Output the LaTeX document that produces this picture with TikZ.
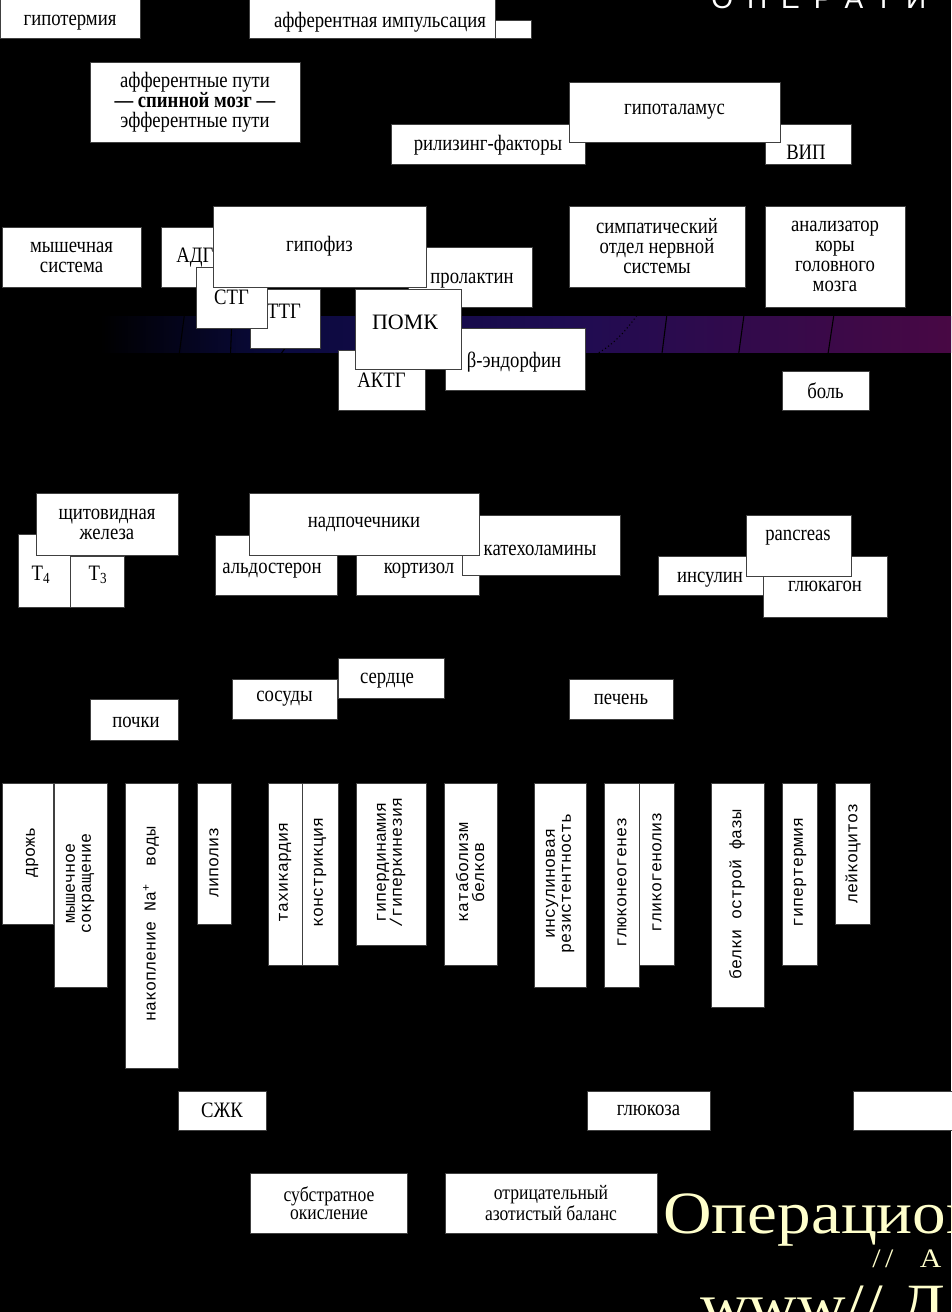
\documentclass[tikz,border=0pt]{standalone}
\usepackage{fontspec}
\setmainfont{Liberation Serif}
\newfontfamily\cond[FakeStretch=0.85]{Liberation Serif}
\newfontfamily\monof{Liberation Mono}
\newfontfamily\spacedsans[LetterSpace=50]{Liberation Sans}
\newfontfamily\titlef[FakeStretch=1.12]{Liberation Serif}
\usetikzlibrary{arrows.meta}
\pgfdeclarelayer{bandl}
\pgfdeclarelayer{connl}
\pgfsetlayers{bandl,connl,main}
\definecolor{navyb}{RGB}{10,10,62}
\definecolor{midb}{RGB}{30,12,82}
\definecolor{purp}{RGB}{72,8,68}
\definecolor{ylw}{RGB}{255,255,204}
\newcommand\boxfont{\cond\fontsize{16.5}{15}\selectfont}
\newcommand\smallboxfont{\cond\fontsize{15.5}{13.5}\selectfont}
\newcommand\rotfont{\monof\fontsize{12.5}{12}\selectfont}
\tikzset{
  box/.style={draw=black!75,fill=white,line width=0.5pt,inner sep=0pt,font=\boxfont,align=center,text=black},
  txt/.style={inner sep=0pt,font=\boxfont,align=center,text=black},
  rtxt/.style={inner sep=0pt,font=\rotfont,align=center,rotate=90,text=black},
  conn/.style={draw=black,line width=0.8pt,-{Stealth[length=5pt]}},
  yl/.style={inner sep=0pt,anchor=base west,text=ylw},
}
% box with centred text: name, x1, y1, x2, y2, text
\newcommand\Bx[6]{\node[box,minimum width={(#4-#2)*0.75pt},minimum height={(#5-#3)*0.75pt}] (#1) at ({(#2+#4)/2},{(#3+#5)/2}) {#6};}
% box with rotated text: name, x1, y1, x2, y2, tx, ty, text
\newcommand\RBx[8]{\Bx{#1}{#2}{#3}{#4}{#5}{}\node[rtxt] (#1t) at (#6,#7) {#8};}
\begin{document}
\begin{tikzpicture}[x=0.75pt,y=-0.75pt]
\useasboundingbox (0,0) rectangle (951,1312);
\begin{pgfonlayer}{bandl}
\fill[black] (0,0) rectangle (951,1312);
\shade[left color=black,right color=navyb] (100,317) rectangle (280,352);
\shade[left color=navyb,right color=midb] (279.5,317) rectangle (560,352);
\shade[left color=midb,right color=purp] (559.5,317) rectangle (951,352);
\end{pgfonlayer}

% ---- titles (cut by the page edge, as in the slide)
\node[anchor=base west,inner sep=0pt,text=white,font=\spacedsans\fontsize{21}{21}\selectfont] (toptitle) at (711,9) {ОПЕРАТИ};
\node[yl,font=\titlef\fontsize{45}{45}\selectfont] (optitle) at (663,1233) {Операцион};
\node[yl,font=\titlef\fontsize{20}{20}\selectfont] (url1) at (872,1267) {/\,/\quad А};
\node[yl,font=\titlef\fontsize{45}{45}\selectfont] (url2) at (700,1325) {www// Д};

% ---- boxes
\Bx{hypo}{0}{-8}{140}{38}{}
\node[txt] (hypot) at (70,23) {гипотермия};
\Bx{aff}{249}{-8}{495}{38}{}
\Bx{affx}{495}{20}{531}{38}{}
\node[txt] (afft) at (380,22) {афферентная импульсация};
\Bx{spinal}{90}{62}{300}{142}{афферентные пути\\\textbf{— спинной мозг —}\\эфферентные пути}
\Bx{rel}{391}{124}{585}{164}{}
\node[txt] (relt) at (488,145) {рилизинг-факторы};
\Bx{vip}{765}{124}{851}{164}{}
\node[txt] (vipt) at (806,152) {ВИП};
\Bx{hypothal}{569}{82}{780}{142}{гипоталамус}

\Bx{muscle}{2}{227}{141}{287}{мышечная\\система}
\Bx{adg}{161}{227}{215}{287}{}
\node[txt] (adgt) at (195,258) {АДГ};
\Bx{ttg}{250}{289}{320}{348}{}
\node[txt] (ttgt) at (284,311) {ТТГ};
\Bx{stg}{196}{267}{267}{328}{СТГ}
\Bx{prol}{408}{247}{532}{307}{}
\node[txt] (prolt) at (472,281) {пролактин};
\Bx{aktg}{338}{350}{425}{410}{АКТГ}
\Bx{beta}{445}{328}{585}{390}{}
\node[txt] (betat) at (514,362) {β-эндорфин};
\Bx{pomk}{355}{289}{461}{369}{}
\node[txt,font=\fontsize{16.5}{15}\selectfont] (pomkt) at (405,322) {ПОМК};
\Bx{hypoph}{213}{206}{426}{287}{гипофиз}
\Bx{sym}{569}{206}{745}{287}{симпатический\\отдел нервной\\системы}
\Bx{anal}{765}{206}{905}{307}{анализатор\\коры\\головного\\мозга}
\Bx{bol}{782}{371}{869}{410}{боль}

\Bx{t4}{18}{534}{70}{607}{}
\node[txt] (t4t) at (41,575) {T\textsubscript{4}};
\Bx{shch}{36}{493}{178}{555}{щитовидная\\железа}
\Bx{t3}{70}{556}{124}{607}{}
\node[txt] (t3t) at (98,575) {T\textsubscript{3}};
\Bx{ald}{215}{535}{337}{595}{}
\node[txt] (aldt) at (272,571) {альдостерон};
\Bx{kort}{356}{535}{479}{595}{}
\node[txt] (kortt) at (419,571) {кортизол};
\Bx{kat}{462}{515}{620}{575}{}
\node[txt] (katt) at (540,550) {катехоламины};
\Bx{nadp}{249}{493}{479}{555}{надпочечники}
\Bx{ins}{658}{556}{764}{595}{}
\node[txt] (inst) at (710,580) {инсулин};
\Bx{gluc}{763}{556}{887}{617}{глюкагон}
\Bx{panc}{746}{515}{851}{576}{}
\node[txt] (panct) at (798,538) {pancreas};

\Bx{sosudy}{232}{679}{337}{719}{сосуды}
\Bx{serdce}{338}{658}{444}{698}{}
\node[txt] (serdcet) at (387,681) {сердце};
\Bx{pechen}{569}{679}{673}{719}{печень}
\Bx{pochki}{90}{699}{178}{740}{}
\node[txt] (pochkit) at (136,722) {почки};

\RBx{drozh}{2}{783}{53}{924}{32}{852}{дрожь}
\RBx{mysh}{54}{783}{107}{987}{80}{883}{мышечное\\сокращение}
\RBx{nak}{125}{783}{178}{1068}{151}{924}{накопление Na\textsuperscript{+}\quad воды}
\RBx{lip}{197}{783}{231}{924}{214}{862}{липолиз}
\RBx{tach}{268}{783}{302}{965}{285}{872}{тахикардия}
\RBx{konst}{302}{783}{338}{965}{320}{872}{констрикция}
\RBx{giperd}{356}{783}{426}{945}{391}{862}{гипердинамия\\/гиперкинезия}
\RBx{katab}{444}{783}{497}{965}{470}{872}{катаболизм\\белков}
\RBx{insres}{534}{783}{586}{987}{560}{883}{инсулиновая\\резистентность}
\RBx{glneo}{604}{783}{639}{987}{622}{882}{глюконеогенез}
\RBx{glikog}{639}{783}{674}{965}{657}{872}{гликогенолиз}
\RBx{belki}{711}{783}{764}{1007}{737}{894}{белки острой фазы}
\RBx{giperterm}{782}{783}{817}{965}{800}{872}{гипертермия}
\RBx{leik}{835}{783}{870}{924}{853}{853}{лейкоцитоз}

\Bx{szhk}{178}{1091}{266}{1130}{СЖК}
\Bx{gluk}{587}{1091}{710}{1130}{глюкоза}
\Bx{blank}{853}{1091}{962}{1130}{}
\node[box,font=\smallboxfont,minimum width={157*0.75pt},minimum height={60*0.75pt}] (subst) at (329,1203) {субстратное\\окисление};
\node[box,font=\smallboxfont,minimum width={212*0.75pt},minimum height={60*0.75pt}] (otric) at (551,1203) {отрицательный\\азотистый баланс};

% ---- connectors: black on black, under the boxes, seen only on the band
\begin{pgfonlayer}{connl}
\draw[conn] (hypo.east) -- (aff.west);
\draw[conn] (aff.south) -- (spinal.north);
\draw[conn] (spinal.east) -- (rel.west);
\draw[conn] (rel.south) -- (hypoph.north);
\draw[conn] (hypothal.south) -- (sym.north);
\draw[conn] (muscle.south) -- (mysh.north);
\draw[conn] (adg.south) -- (pochki.north);
\draw[conn] (stg.south) -- (lip.north);
\draw[conn] (ttg.south) -- (shch.north east);
\draw[conn] (aktg.south) -- (nadp.north);
\draw[conn,dotted] (beta.east) .. controls (625,345) and (645,300) .. (sym.south);
\draw[conn] ([xshift=10pt]sym.south) -- (pechen.north);
\draw[conn] (vip.south west) -- (ins.north);
\draw[conn] (anal.south) -- (bol.north);
\draw[conn] (pochki.south) -- (nak.north);
\draw[conn] (serdce.south) -- (tach.north);
\draw[conn] (sosudy.south) -- (konst.north);
\draw[conn] (pechen.south) -- (glneo.north);
\draw[conn] (pechen.south) -- (glikog.north);
\draw[conn] (pechen.south east) -- (belki.north);
\draw[conn] (lip.south) -- (szhk.north);
\draw[conn] (glneo.south) -- (gluk.north);
\draw[conn] (szhk.south) -- (subst.north);
\draw[conn] (katab.south) -- (otric.north);
\end{pgfonlayer}
\end{tikzpicture}
\end{document}
